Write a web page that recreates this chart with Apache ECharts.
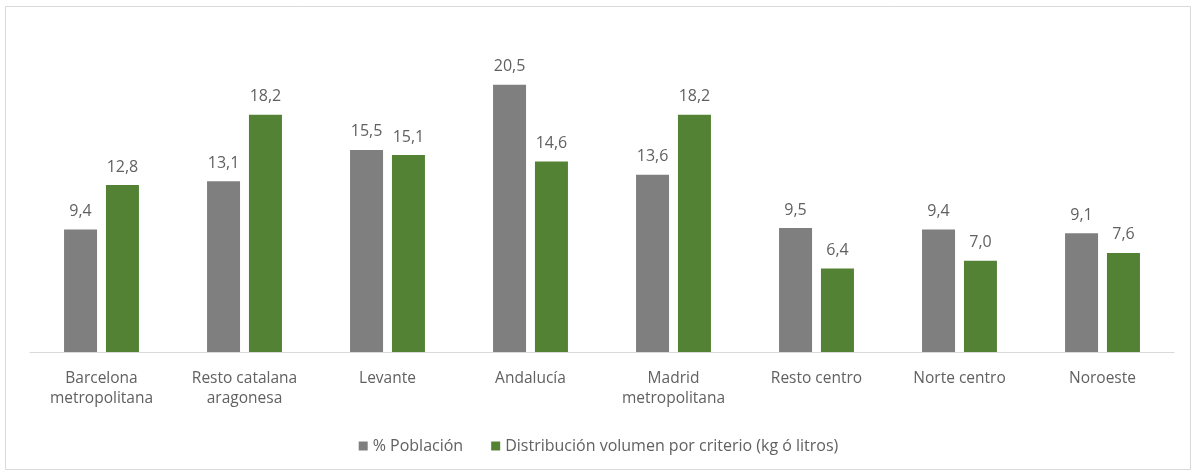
<!DOCTYPE html>
<html>
<head>
<meta charset="utf-8">
<script src="https://cdn.jsdelivr.net/npm/echarts@6/dist/echarts.min.js"></script>
<style>
  html, body { margin: 0; padding: 0; background: #ffffff; }
  #chart { width: 1197px; height: 473px; }
</style>
</head>
<body>
<div id="chart"></div>
<script>
// Datos
const categories = ['Barcelona\nmetropolitana', 'Resto catalana\naragonesa', 'Levante', 'Andalucía',
                    'Madrid\nmetropolitana', 'Resto centro', 'Norte centro', 'Noroeste'];
const poblacion = [9.4, 13.1, 15.5, 20.5, 13.6, 9.5, 9.4, 9.1];
const distribucion = [12.8, 18.2, 15.1, 14.6, 18.2, 6.4, 7.0, 7.6];
const seriesNames = ['% Población', 'Distribución volumen por criterio (kg ó litros)'];

const chart = echarts.init(document.getElementById('chart'));

const labelStyle = {
    show: true,
    position: 'top',
    distance: 10,
    color: '#616161',
    fontSize: 16,
    fontFamily: 'Open Sans',
    formatter: function (p) { return p.value.toFixed(1).replace('.', ','); }
};

chart.setOption({
    backgroundColor: '#ffffff',
    animation: false,
    graphic: [{
        type: 'rect',
        shape: { x: 5.5, y: 6.5, width: 1185, height: 463 },
        style: { fill: 'none', stroke: '#d9d9d9', lineWidth: 1 },
        z: -1
    }],
    legend: {
        bottom: 14,
        left: 'center',
        itemWidth: 9,
        itemHeight: 9,
        itemGap: 28,
        icon: 'rect',
        textStyle: { color: '#616161', fontSize: 16, fontFamily: 'Open Sans' },
        data: seriesNames
    },
    grid: {
        left: 30,
        right: 23,
        top: 26,
        height: 326,
        containLabel: false
    },
    xAxis: {
        type: 'category',
        data: categories,
        axisLine: { lineStyle: { color: '#d9d9d9', width: 1 } },
        axisTick: { show: false },
        axisLabel: {
            color: '#616161',
            fontSize: 15.5,
            fontFamily: 'Open Sans',
            interval: 0,
            margin: 17,
            lineHeight: 20
        }
    },
    yAxis: {
        type: 'value',
        min: 0,
        max: 25,
        show: false,
        splitLine: { show: false }
    },
    series: [{
        name: seriesNames[0],
        type: 'bar',
        data: poblacion,
        barWidth: 33,
        barGap: '27%',
        itemStyle: { color: '#7f7f7f' },
        label: labelStyle
    }, {
        name: seriesNames[1],
        type: 'bar',
        data: distribucion,
        barWidth: 33,
        itemStyle: { color: '#548235' },
        label: labelStyle
    }]
});
</script>
</body>
</html>
